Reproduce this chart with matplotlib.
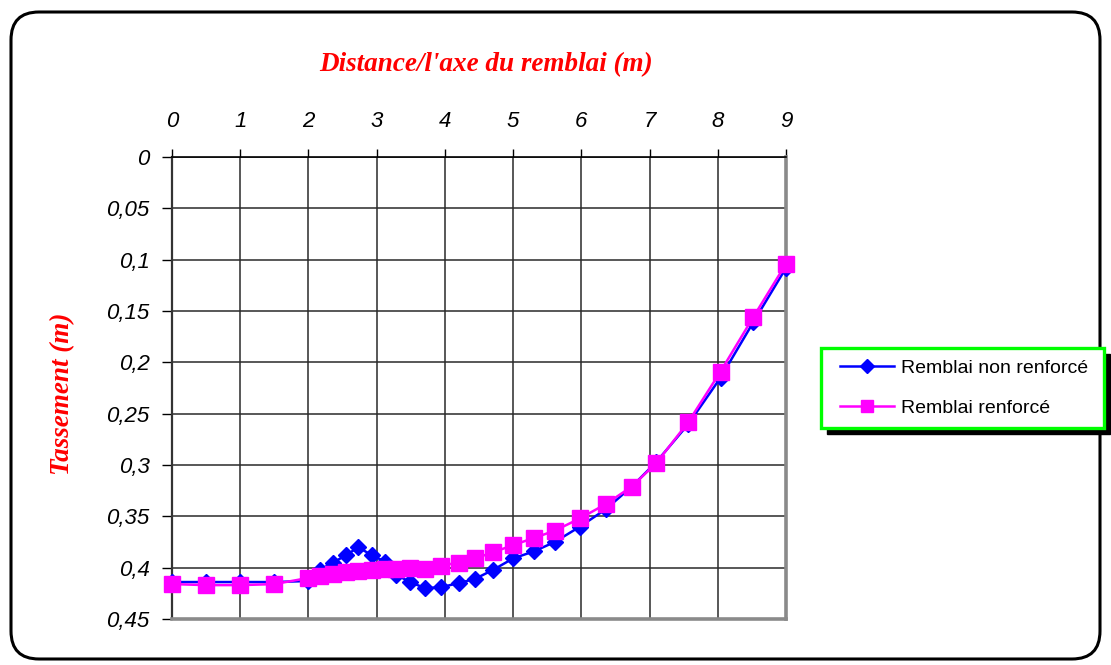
import matplotlib
matplotlib.use("Agg")
import matplotlib.pyplot as plt
from matplotlib.patches import FancyBboxPatch, Rectangle
from matplotlib.lines import Line2D

# Settlement profile along the embankment cross-section
distance = [0, 0.5, 1.0, 1.5, 2.0, 2.17, 2.36, 2.55, 2.73, 2.93, 3.12, 3.29,
            3.49, 3.71, 3.95, 4.2, 4.44, 4.71, 5.0, 5.31, 5.61, 5.98, 6.36,
            6.74, 7.1, 7.57, 8.04, 8.52, 9.0]
non_renforce = [0.414, 0.414, 0.414, 0.414, 0.413, 0.402, 0.395, 0.388, 0.380,
                0.388, 0.394, 0.407, 0.414, 0.420, 0.419, 0.415, 0.411, 0.402,
                0.391, 0.384, 0.375, 0.360, 0.343, 0.321, 0.297, 0.260, 0.215,
                0.161, 0.108]
renforce = [0.416, 0.417, 0.417, 0.416, 0.410, 0.408, 0.406, 0.404, 0.403,
            0.402, 0.401, 0.401, 0.400, 0.401, 0.398, 0.395, 0.391, 0.385,
            0.378, 0.371, 0.364, 0.352, 0.338, 0.321, 0.298, 0.258, 0.209,
            0.156, 0.104]

x_ticks = list(range(0, 10))
y_ticks = [0, 0.05, 0.1, 0.15, 0.2, 0.25, 0.3, 0.35, 0.4, 0.45]
y_tick_labels = ["0", "0,05", "0,1", "0,15", "0,2", "0,25", "0,3", "0,35", "0,4", "0,45"]
series_labels = ["Remblai non renforcé", "Remblai renforcé"]

W, H = 1111, 665
fig = plt.figure(figsize=(W / 100, H / 100), dpi=100)

# rounded outer frame
frame = FancyBboxPatch((11, 6), 1089, 647, boxstyle="round,pad=0,rounding_size=28",
                       transform=None, facecolor="none", edgecolor="black",
                       linewidth=2.2, zorder=1)
fig.patches.append(frame)

ax = fig.add_axes([172 / W, 1 - 619 / H, 614 / W, 462 / H])
ax.set_facecolor("white")
ax.set_xlim(0, 9)
ax.set_ylim(0.45, 0)

ax.xaxis.tick_top()
ax.set_xticks(x_ticks)
ax.set_xticklabels([str(v) for v in x_ticks])
ax.set_yticks(y_ticks)
ax.set_yticklabels(y_tick_labels)

for lbl in ax.get_xticklabels() + ax.get_yticklabels():
    lbl.set_fontfamily("Liberation Sans")
    lbl.set_fontstyle("italic")
    lbl.set_fontsize(16)

ax.tick_params(axis="x", which="both", direction="out", length=6, width=1,
               color="black", pad=12)
ax.tick_params(axis="y", which="both", direction="out", length=7, width=1,
               color="black", pad=9)

ax.grid(True, color="#2a2a2a", linewidth=1.1)
ax.set_axisbelow(True)

ax.spines["top"].set_color("black")
ax.spines["top"].set_linewidth(1.2)
ax.spines["left"].set_color("#333333")
ax.spines["left"].set_linewidth(1.6)
ax.spines["bottom"].set_color("#8a8a8a")
ax.spines["bottom"].set_linewidth(2.6)
ax.spines["right"].set_color("#8a8a8a")
ax.spines["right"].set_linewidth(2.6)

ax.plot(distance, non_renforce, color="#0000ff", linewidth=1.8, marker="D",
        markersize=8, markerfacecolor="#0000ff", markeredgecolor="#0000ff",
        clip_on=False, zorder=3)
ax.plot(distance, renforce, color="#ff00ff", linewidth=1.8, marker="s",
        markersize=11, markerfacecolor="#ff00ff", markeredgecolor="#ff00ff",
        clip_on=False, zorder=4)

title_font = dict(family="Liberation Serif", weight="bold", style="italic",
                  size=19.5, color="#ff0000")
fig.text(486 / W, 1 - 65 / H, "Distance/l'axe du remblai (m)", ha="center",
         va="center", **title_font)
fig.text(63 / W, 1 - 394 / H, "Tassement (m)", ha="center", va="center",
         rotation=90, **title_font)

# legend box with hard black shadow
lx0, ly_top, lx1, ly_bot = 821, 348, 1104, 428
shadow = Rectangle((lx0 + 6, H - ly_bot - 6), lx1 - lx0, ly_bot - ly_top,
                   transform=None, facecolor="black", edgecolor="black", zorder=5)
box = Rectangle((lx0, H - ly_bot), lx1 - lx0, ly_bot - ly_top, transform=None,
                facecolor="white", edgecolor="#00ff00", linewidth=2.4, zorder=6)
fig.patches.extend([shadow, box])

handles = [
    Line2D([], [], color="#0000ff", linewidth=1.8, marker="D", markersize=7,
           markerfacecolor="#0000ff", markeredgecolor="#0000ff"),
    Line2D([], [], color="#ff00ff", linewidth=1.8, marker="s", markersize=9,
           markerfacecolor="#ff00ff", markeredgecolor="#ff00ff"),
]
leg = fig.legend(handles, series_labels, loc="center left",
                 bbox_to_anchor=((lx0 + 19) / W, 1 - ((ly_top + ly_bot) / 2) / H),
                 frameon=False, handlelength=2.8, handletextpad=0.35,
                 labelspacing=1.15, prop=dict(family="Liberation Sans", size=14),
                 borderaxespad=0, borderpad=0)
leg.set_zorder(7)

fig.savefig("out.png", dpi=100)
